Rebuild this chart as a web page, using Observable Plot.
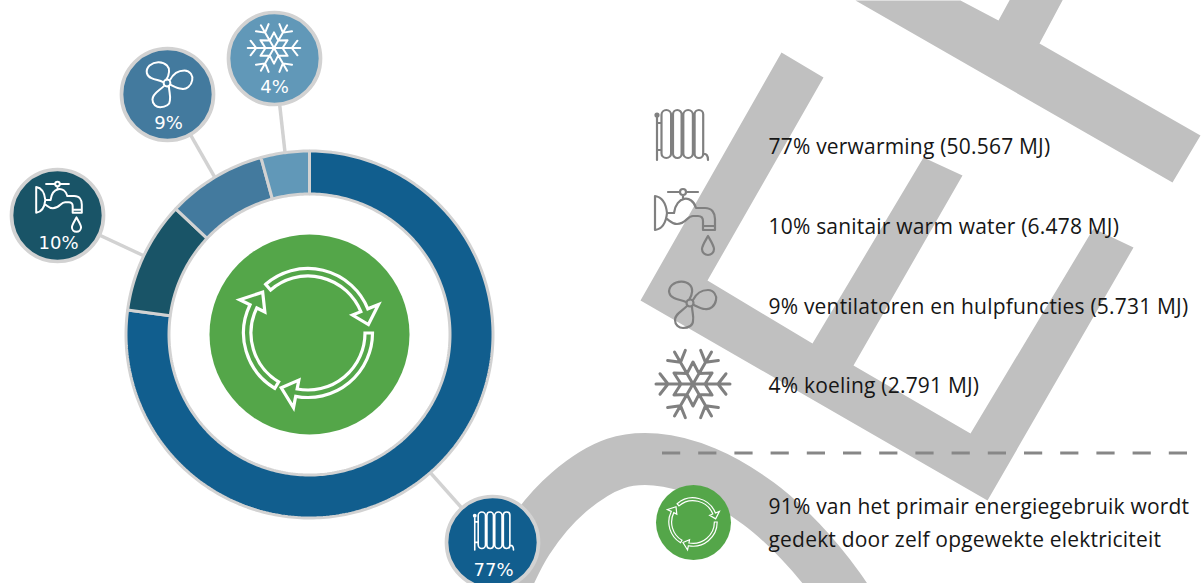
<!DOCTYPE html>
<html><head><meta charset="utf-8">
<script src="https://cdn.jsdelivr.net/npm/d3@7"></script>
<script src="https://cdn.jsdelivr.net/npm/@observablehq/plot@0.6"></script>
<style>html,body{margin:0;padding:0;background:#fff;overflow:hidden}svg{display:block}.legend-text{letter-spacing:.2px}</style>
</head><body><div id="chart"></div>
<script>
const categories = ["verwarming","sanitair warm water","ventilatoren en hulpfuncties","koeling"];
const megajoules = [50567,6478,5731,2791];
const percents = [77,10,9,4];
const mjLabels = ["50.567","6.478","5.731","2.791"];
const colors = ["#115e8e","#195467","#437a9e","#6198b8"];
const icons = ["radiator","tap","fan","snow"];
const bubbleX = [492,57,167,274];
const bubbleY = [542,215,94,58];
const bubbleTextX = [493,58,168,274];
const bubbleTextY = [575,248,128,92];
const bubbleIconX = [493,59,167,274];
const bubbleIconY = [531,206,83,48];
const bubbleIconScale = [0.76,0.76,0.97,0.71];
const legendTextY = [153,233,313,392];
const legendIconX = [681,685,690,693];
const legendIconY = [135,221,303,384];
const noteLines = ["91% van het primair energiegebruik wordt","gedekt door zelf opgewekte elektriciteit"];
const noteLineY = [513,546];
const centre = [309,334];
const ringInner = 140.5, ringOuter = 183.5;
const backgroundLogo = [
  [[781,52],[640,300],[987,500],[1133,247],[1093,228],[970,433],[853,365],[962,175],[923,157],[812,343],[707,280],[823,77]],
  [[855,0],[960,0],[998,20],[1010,-2],[1063,-2],[1039,43],[1200,135],[1172,182]]
];
const backgroundArc = [[496,604],[527,540],[568,492],[615,463],[655,459],[705,472],[758,503],[800,541],[838,587],[856,615]];

const GREEN="#54a649", RING="#d2d2d2", LOGO="#c0c0c0", ICON="#808080";
const W=1202,H=583;
const rad=d=>d*Math.PI/180;
const polar=(r,d)=>[r*Math.sin(rad(d)),-r*Math.cos(rad(d))];

const pie=d3.pie().sort(null)(megajoules);
const ringPts=[];
pie.forEach((p,i)=>{
  const a0=p.startAngle*180/Math.PI,a1=p.endAngle*180/Math.PI;
  const n=Math.max(2,Math.ceil(a1-a0));
  const add=(r,a)=>{const q=polar(r,a);ringPts.push({c:categories[i],x:centre[0]+q[0],y:centre[1]+q[1]});};
  for(let k=0;k<=n;k++)add(ringOuter,a0+(a1-a0)*k/n);
  for(let k=n;k>=0;k--)add(ringInner,a0+(a1-a0)*k/n);
});
const bubbles=categories.map((c,i)=>{
  const mid=(pie[i].startAngle+pie[i].endAngle)/2*180/Math.PI;
  const q=polar(ringOuter,mid);
  return {c,i,x:bubbleX[i],y:bubbleY[i],x2:centre[0]+q[0],y2:centre[1]+q[1],label:percents[i]+"%"};
});
const logoPts=backgroundLogo.flatMap((poly,k)=>poly.map(([x,y])=>({k,x,y})));
const arcPts=backgroundArc.map(([x,y])=>({x,y}));

// icon shapes
const pill=(x,w,t,b)=>`M${x},${t+w/2}a${w/2},${w/2} 0 0 1 ${w},0V${b-w/2}a${w/2},${w/2} 0 0 1 ${-w},0Z`;
const iconPaths={
  radiator:[pill(-19.5,9.6,-25,23),pill(-8,8.6,-25,23),pill(2.3,9.6,-25,23),pill(13.6,8.6,-25,23),
    "M-24,-20V25","M-25.5,-20a1.5,1.5 0 1 0 3,0a1.5,1.5 0 1 0 -3,0","M22,19q5,-1 5,6",
    "M-24,-12H-19.5M-9.9,-12H-8M0.6,-12H2.3M11.9,-12H13.6",
    "M-24,15H-19.5M-9.9,15H-8M0.6,15H2.3M11.9,15H13.6"].join(""),
  tap:["M-30,-25V9C-23,8 -19,2 -18,-8C-19,-17 -23,-24 -30,-25Z",
    "M-18,-8H-11C-9,-25 7,-27 11,-13H20C27,-13 30,-8 30,-2V9H18V0C18,-3 16,-5 13,-5H8C2,-5 1,3 -8,3C-13,3 -15,0 -18,-2",
    "M18,5H30","M-17,-29H-5M1,-29H13","M-2,-26V-23","M-5,-29a3,3 0 1 0 6,0a3,3 0 1 0 -6,0",
    "M23,15C19,22 17,25 17,28A6,6 0 1 0 29,28C29,25 27,22 23,15Z"].join(""),
  fan:["M-1,-3C3,-9 3,-15 0,-18C-5,-23 -13,-22 -18,-18C-23,-13 -21,-7 -16,-5C-12,-3 -8,-3 -4,-1",
    "M3,-3C6,-9 11,-13 18,-13C24,-13 27,-7 26,-3C25,3 20,7 15,6C11,6 8,4 4,2",
    "M-3,3C-8,8 -15,11 -15,17C-15,22 -11,25 -7,25C-1,25 3,22 3,18C4,13 2,9 2,3",
    "M-3.5,0a3.5,3.5 0 1 0 7,0a3.5,3.5 0 1 0 -7,0"].join(""),
  snow:(()=>{
    let s="";
    const P=(r,a,bx=0,by=0)=>{const x=bx+r*Math.cos(rad(a)),y=by+r*Math.sin(rad(a));return [x,y];};
    for(let k=0;k<6;k++){
      const a=k*60;
      const e=P(37,a),b=P(25,a);
      s+=`M0,0L${e}`;
      for(const o of [-52,52]){const t=P(13,a+o,b[0],b[1]);s+=`M${b}L${t}`;}
    }
    for(let k=0;k<6;k++){
      const tip=P(22,30+k*60),v=P(12,60+k*60);
      s+=(k?"L":"M")+tip+"L"+v;
    }
    return s+"Z";
  })()
};
const recyclePath=(()=>{
  const arrows=[[-41,68,82],[90,191,206],[211,296,312]];
  const R1=64.5,R2=57,Wo=76,Wi=48,Tip=61;
  let s="";
  for(const [a,b,t] of arrows){
    const p=(r,d)=>polar(r,d).map(v=>v.toFixed(2)).join(",");
    s+=`M${p(R1,a)}A${R1},${R1} 0 0 1 ${p(R1,b)}L${p(Wo,b)}L${p(Tip,t)}L${p(Wi,b)}L${p(R2,b)}A${R2},${R2} 0 0 0 ${p(R2,a)}Z`;
  }
  return s;
})();

const iconMark=(items)=>(index,{x,y})=>{
  const g=d3.create("svg:g").attr("fill","none").attr("stroke-linecap","round").attr("stroke-linejoin","round");
  for(const it of items){
    g.append("path").attr("d",it.d)
     .attr("transform",`translate(${x(it.x)},${y(it.y)}) scale(${it.k})`)
     .attr("stroke",it.color).attr("stroke-width",it.w/it.k)
     .attr("stroke-linecap",it.cap||"round").attr("stroke-linejoin",it.join||"round");
  }
  return g.node();
};
const bubbleIcons=icons.map((n,i)=>({d:iconPaths[n],x:bubbleIconX[i],y:bubbleIconY[i],k:bubbleIconScale[i],color:"#fff",w:n==="radiator"?1.6:2}));
const legendIcons=icons.map((n,i)=>({d:iconPaths[n],x:legendIconX[i],y:legendIconY[i],k:1,color:ICON,w:n==="snow"?3:2.2}));
const recycleIcons=[
  {d:recyclePath,x:308,y:333,k:1,color:"#fff",w:3.2,join:"miter",cap:"butt"},
  {d:recyclePath,x:693,y:522,k:0.375,color:"#fff",w:1.2,join:"miter",cap:"butt"}
];
const legendRows=categories.map((c,i)=>({y:legendTextY[i],t:`${percents[i]}% ${c} (${mjLabels[i]} MJ)`}));
const noteRows=noteLines.map((t,i)=>({t,y:noteLineY[i]}));
const legendFont={fontFamily:"Open Sans",fontSize:21,fill:"#161616",textAnchor:"start",lineAnchor:"bottom",className:"legend-text"};

const chart=Plot.plot({
  width:W,height:H,margin:0,
  style:{background:"#fff"},
  x:{domain:[0,W],range:[0,W],axis:null},
  y:{domain:[0,H],range:[0,H],axis:null},
  color:{domain:categories,range:colors},
  marks:[
    Plot.line(logoPts,{x:"x",y:"y",z:"k",stroke:null,fill:LOGO,curve:"linear-closed"}),
    Plot.line(arcPts,{x:"x",y:"y",stroke:LOGO,strokeWidth:52,curve:"catmull-rom",strokeLinecap:"butt"}),
    Plot.link(bubbles,{x1:"x",y1:"y",x2:"x2",y2:"y2",stroke:RING,strokeWidth:3.5}),
    Plot.line(ringPts,{x:"x",y:"y",z:"c",fill:"c",stroke:RING,strokeWidth:3,curve:"linear-closed",strokeLinejoin:"miter"}),
    Plot.dot([{x:centre[0],y:centre[1]}],{x:"x",y:"y",r:100,fill:GREEN,stroke:null}),
    iconMark(recycleIcons.slice(0,1)),
    Plot.dot(bubbles,{x:"x",y:"y",r:46,fill:"c",stroke:RING,strokeWidth:3.7}),
    iconMark(bubbleIcons),
    Plot.text(bubbles,{x:(d,i)=>bubbleTextX[i],y:(d,i)=>bubbleTextY[i],text:"label",fill:"#fff",fontFamily:"DejaVu Sans",fontSize:18,textAnchor:"middle",lineAnchor:"bottom"}),
    iconMark(legendIcons),
    Plot.ruleY([452.5],{x1:662,x2:1190,stroke:"#878787",strokeWidth:3,strokeDasharray:"18.2,18"}),
    Plot.dot([{x:693,y:522}],{x:"x",y:"y",r:37.5,fill:GREEN,stroke:null}),
    iconMark(recycleIcons.slice(1)),
    Plot.text(legendRows,{x:()=>768,y:"y",text:"t",...legendFont}),
    Plot.text(noteRows,{x:()=>768,y:"y",text:"t",...legendFont})
  ]
});
document.getElementById("chart").append(chart);
</script></body></html>
